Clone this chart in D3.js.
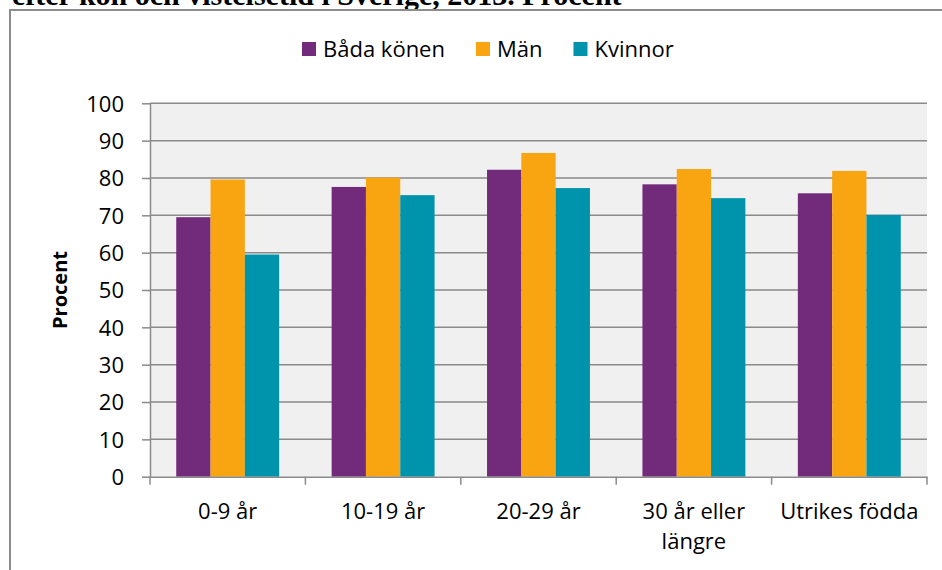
<!DOCTYPE html>
<html>
<head>
<meta charset="utf-8">
<script src="https://cdn.jsdelivr.net/npm/d3@7"></script>
<style>
  body { margin: 0; background: #fff; overflow: hidden; }
  text { font-family: "Open Sans", sans-serif; fill: #000; }
</style>
</head>
<body>
<svg id="chart" width="942" height="570"></svg>
<script>
// data
var categories = ["0-9 år", "10-19 år", "20-29 år", "30 år eller längre", "Utrikes födda"];
var series = ["Båda könen", "Män", "Kvinnor"];
var badaKonen = [69.5, 77.6, 82.2, 78.3, 75.9];
var man = [79.6, 80.1, 86.7, 82.4, 81.9];
var kvinnor = [59.5, 75.4, 77.3, 74.6, 70.1];
var yTicks = [0, 10, 20, 30, 40, 50, 60, 70, 80, 90, 100];

var values = [badaKonen, man, kvinnor];
var colors = ["#722a7a", "#f9a512", "#0093ac"];

var margin = {top: 103.3, left: 150, right: 15, bottom: 93.3},
    width = 942 - margin.left - margin.right,
    height = 570 - margin.top - margin.bottom;

var svg = d3.select("#chart");

// title, cropped at the very top like in the original
svg.append("text")
  .attr("x", 12)
  .attr("y", 5)
  .style("font-family", "'Liberation Serif', 'Times New Roman', serif")
  .style("font-weight", "bold")
  .style("font-size", "30px")
  .text("efter kön och vistelsetid i Sverige, 2013. Procent");

// chart area border
svg.append("rect")
  .attr("x", 10).attr("y", 10)
  .attr("width", 960).attr("height", 600)
  .attr("fill", "none")
  .attr("stroke", "#8c8c8c")
  .attr("stroke-width", 2);

var g = svg.append("g")
  .attr("transform", "translate(" + margin.left + "," + margin.top + ")");

var x0 = d3.scaleBand()
  .domain(categories)
  .range([0, width])
  .padding(0);

var x1 = d3.scaleBand()
  .domain(series)
  .range([0, x0.bandwidth()])
  .paddingInner(0)
  .paddingOuter(0.765);

var y = d3.scaleLinear()
  .domain([0, 100])
  .range([height, 0]);

// plot background
g.append("rect")
  .attr("width", width)
  .attr("height", height)
  .attr("fill", "#f0f0f0");

// gridlines
g.selectAll(".grid")
  .data(yTicks.filter(function(d) { return d > 0; }))
  .enter()
  .append("line")
  .attr("x1", 0).attr("x2", width)
  .attr("y1", function(d) { return y(d); })
  .attr("y2", function(d) { return y(d); })
  .attr("stroke", "#8a8a8a")
  .attr("stroke-width", 1.5);

// bars
series.forEach(function(s, si) {
  g.selectAll(".bar" + si)
    .data(values[si])
    .enter()
    .append("rect")
    .attr("x", function(d, i) { return x0(categories[i]) + x1(s); })
    .attr("width", x1.bandwidth())
    .attr("y", function(d) { return y(d); })
    .attr("height", function(d) { return height - y(d); })
    .attr("fill", colors[si]);
});

// Y axis
var yAxis = g.append("g")
  .call(d3.axisLeft(y).tickValues(yTicks).tickSize(8).tickSizeOuter(0).tickPadding(18));
yAxis.selectAll("path, line").attr("stroke", "#8a8a8a").attr("stroke-width", 1.5);
yAxis.selectAll("text").style("font-size", "22px").attr("font-family", null).attr("dy", "0.36em");

// X axis with ticks at category boundaries
var xAxis = g.append("g")
  .attr("transform", "translate(0," + height + ")")
  .call(d3.axisBottom(x0).tickSize(0).tickSizeOuter(0).tickPadding(0));
xAxis.select(".domain").attr("stroke", "#8a8a8a").attr("stroke-width", 1.5);
xAxis.selectAll(".tick text").remove();

g.append("g")
  .selectAll("line")
  .data(d3.range(categories.length + 1))
  .enter()
  .append("line")
  .attr("x1", function(i) { return i * x0.step(); })
  .attr("x2", function(i) { return i * x0.step(); })
  .attr("y1", height).attr("y2", height + 8)
  .attr("stroke", "#8a8a8a")
  .attr("stroke-width", 1.5);

// category labels, wrapped like the original
var labelLines = {"30 år eller längre": ["30 år eller", "längre"]};
categories.forEach(function(c) {
  var lines = labelLines[c] || [c];
  var t = g.append("text")
    .attr("text-anchor", "middle")
    .attr("x", x0(c) + x0.bandwidth() / 2)
    .attr("y", height + 42)
    .style("font-size", "22px");
  lines.forEach(function(l, li) {
    t.append("tspan")
      .attr("x", x0(c) + x0.bandwidth() / 2)
      .attr("dy", li === 0 ? 0 : 30)
      .text(l);
  });
});

// y axis title
svg.append("text")
  .attr("transform", "translate(67,290) rotate(-90)")
  .attr("text-anchor", "middle")
  .style("font-size", "20px")
  .style("font-weight", "bold")
  .text("Procent");

// legend
var lx = 302;
series.forEach(function(s, si) {
  svg.append("rect")
    .attr("x", lx).attr("y", 42)
    .attr("width", 14).attr("height", 14)
    .attr("fill", colors[si]);
  var t = svg.append("text")
    .attr("x", lx + 21)
    .attr("y", 57)
    .style("font-size", "22px")
    .text(s);
  lx = lx + 21 + t.node().getComputedTextLength() + 31;
});
</script>
</body>
</html>
